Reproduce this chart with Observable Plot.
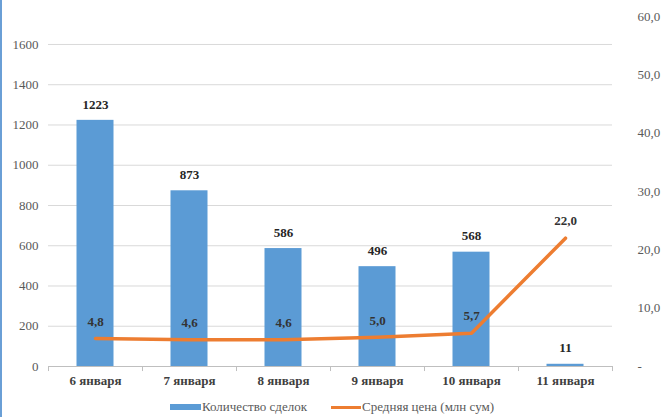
<!DOCTYPE html>
<html><head><meta charset="utf-8">
<script src="https://cdn.jsdelivr.net/npm/d3@7"></script>
<script src="https://cdn.jsdelivr.net/npm/@observablehq/plot@0.6"></script>
<style>
html,body{margin:0;padding:0;background:#fff;}
#wrap{position:relative;width:660px;height:417px;border-left:2px solid #6a9fd6;overflow:hidden;font-family:'Liberation Serif','Times New Roman',Tinos,'DejaVu Serif',serif;}
#legend{position:absolute;left:0;top:399px;width:660px;display:flex;justify-content:center;align-items:center;font-size:13px;color:#595959;}
.sw{display:inline-block;width:31px;height:6px;background:#5B9BD5;margin-right:1px;}
.ln{display:inline-block;width:30px;height:3px;background:#ED7D31;margin-left:24px;margin-right:1px;}
#chart svg text{font-family:'Liberation Serif','Times New Roman',Tinos,'DejaVu Serif',serif;}
</style></head>
<body><div id="wrap"><div id="chart"></div>
<div id="legend"><span class="sw"></span>Количество сделок<span class="ln"></span>Средняя цена (млн сум)</div></div>
<script>
const categories = ["6 января","7 января","8 января","9 января","10 января","11 января"];
const deals = [1223, 873, 586, 496, 568, 11];
const prices = [4.8, 4.6, 4.6, 5.0, 5.7, 22.0];
const leftTicks = [0,200,400,600,800,1000,1200,1400,1600];
const rightTicks = [0,10,20,30,40,50,60];

const leftMax = 1739;            // left-axis value at the top of the right axis (60,0)
const k = leftMax / 60;          // right-axis units -> left-axis units
const rows = categories.map((c,i)=>({cat:c, deals:deals[i], price:prices[i]}));
const fmt1 = v => v.toFixed(1).replace(".", ",");
const step = 564 / categories.length;
const serif = "'Liberation Serif','Times New Roman',Tinos,'DejaVu Serif',serif";

const chart = Plot.plot({
  width: 660, height: 392,
  marginTop: 16, marginBottom: 26, marginLeft: 46, marginRight: 50,
  style: {fontFamily: serif, fontSize: "13px", color: "#595959", background: "#fff"},
  x: {domain: categories, padding: 0},
  y: {domain: [0, leftMax]},
  marks: [
    Plot.gridY(leftTicks, {stroke: "#d9d9d9", strokeOpacity: 1, strokeWidth: 1}),
    Plot.barY(rows, {x: "cat", y: "deals", fill: "#5B9BD5", insetLeft: 28.5, insetRight: 28.5}),
    Plot.ruleY([0], {stroke: "#bfbfbf", strokeWidth: 1}),
    Plot.ruleX(categories, {x: d=>d, y1: 0, y2: -25, dx: -step/2, stroke: "#bfbfbf"}),
    Plot.ruleX([categories[categories.length-1]], {x: d=>d, y1: 0, y2: -25, dx: step/2, stroke: "#bfbfbf"}),
    Plot.lineY(rows, {x: "cat", y: d => d.price * k, stroke: "#ED7D31", strokeWidth: 3.5}),
    Plot.text(rows, {x: "cat", y: "deals", text: d => String(d.deals), dy: -16, fontWeight: "bold", fontSize: 13, fill: "#262626"}),
    Plot.text(rows, {x: "cat", y: d => d.price * k, text: d => fmt1(d.price), dy: -17, fontWeight: "bold", fontSize: 13, fill: "#333"}),
    Plot.axisY(leftTicks, {anchor: "left", tickSize: 0, tickPadding: 10, label: null, fontSize: 13, fill: "#595959", tickFormat: d => String(d)}),
    Plot.axisY(rightTicks.map(t => t * k), {anchor: "right", tickSize: 0, tickPadding: 25, label: null, fontSize: 13, fill: "#595959",
      tickFormat: v => { const p = Math.round(v / k); return p === 0 ? "-" : fmt1(p); }}),
    Plot.axisX({tickSize: 0, tickPadding: 9, label: null, fontWeight: "bold", fontSize: 13, fill: "#404040"})
  ]
});
document.getElementById("chart").appendChild(chart);
</script></body></html>
